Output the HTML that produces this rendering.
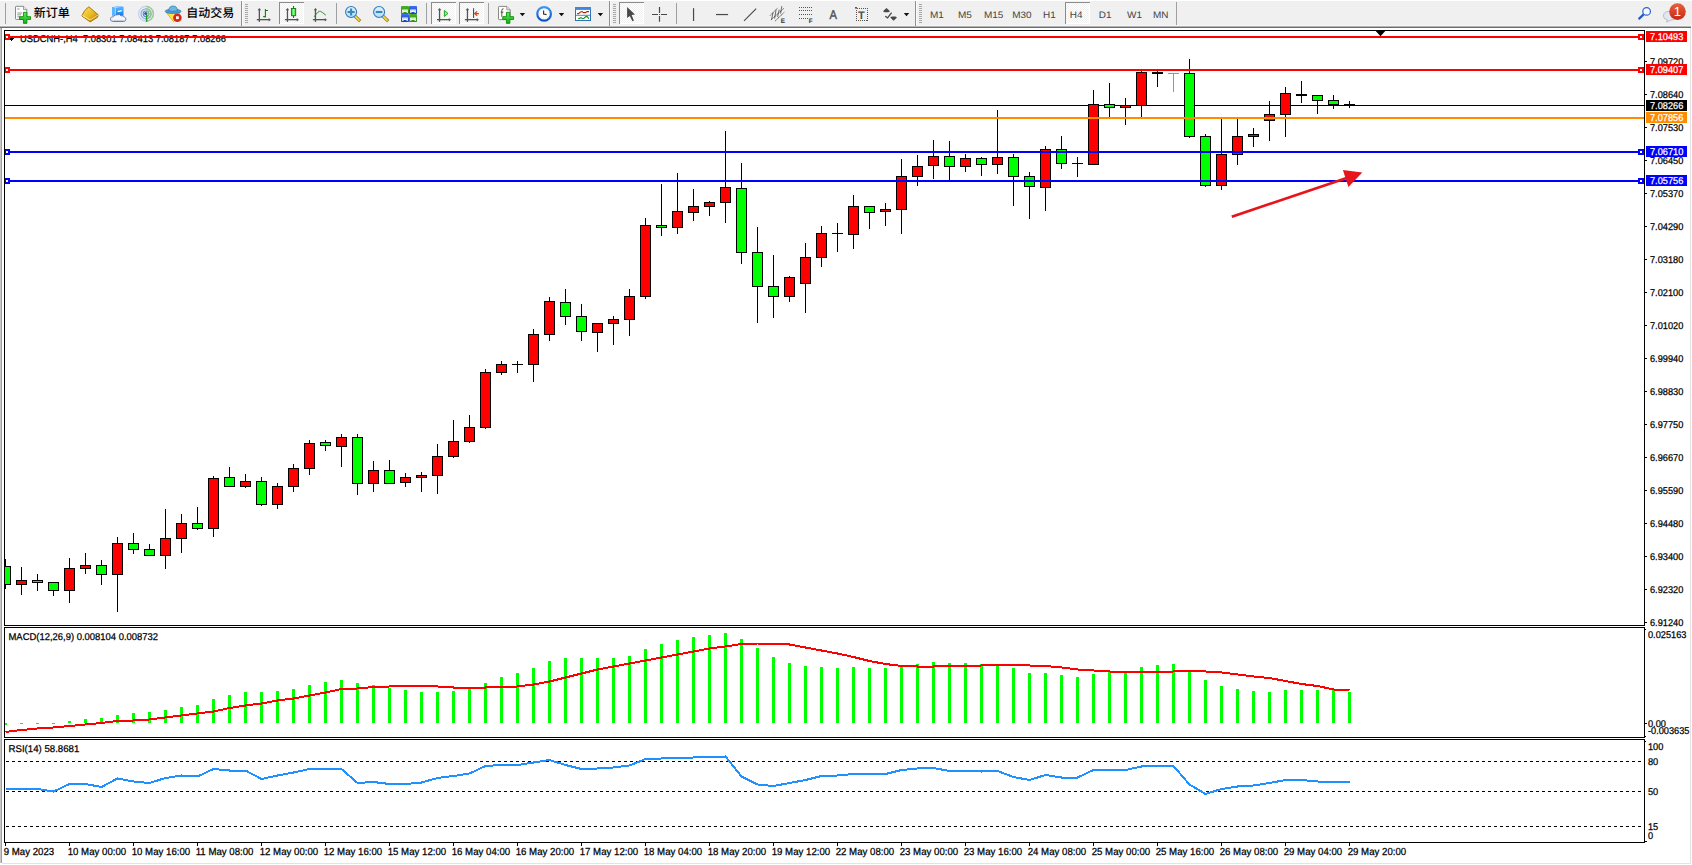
<!DOCTYPE html>
<html><head><meta charset="utf-8"><title>USDCNH-,H4</title>
<style>
html,body{margin:0;padding:0;background:#fff;overflow:hidden}
svg{display:block}
text{font-family:"Liberation Sans","Noto Sans CJK SC",sans-serif;font-size:9.8px;fill:#000;text-rendering:geometricPrecision}
.t{stroke:#000;stroke-width:0.25px}
.cj{font-family:"Liberation Sans","Noto Sans CJK SC",sans-serif;font-size:12px;font-weight:500;fill:#000}
.tf{font-size:9.4px;fill:#444}
.w{fill:#fff;stroke:#fff;stroke-width:0.25px}
.c{shape-rendering:crispEdges}
</style></head><body>
<svg width="1692" height="865" viewBox="0 0 1692 865">
<rect width="1692" height="865" fill="#fff"/>

<g class="c">
<rect x="0" y="1" width="1692" height="25" fill="#f0f0f0"/>
<rect x="0" y="25" width="1692" height="1" fill="#f6f6f6"/>
<rect x="0" y="26" width="1691" height="1" fill="#b4b4b4"/>
<rect x="0" y="27" width="1691" height="1" fill="#6c6c6c"/>
<rect x="0" y="28" width="1" height="835" fill="#c8c8c8"/>
<rect x="1" y="28" width="1" height="835" fill="#a0a0a0"/>
<rect x="1690" y="28" width="1" height="836" fill="#e3e3e3"/>
<rect x="2" y="863" width="1689" height="1" fill="#e3e3e3"/>
</g>
<defs>
<linearGradient id="gGold" x1="0" y1="0" x2="1" y2="1"><stop offset="0" stop-color="#ffe860"/><stop offset="0.55" stop-color="#e8b820"/><stop offset="1" stop-color="#b07008"/></linearGradient>
<linearGradient id="gPlus" x1="0" y1="0" x2="0" y2="1"><stop offset="0" stop-color="#58f058"/><stop offset="1" stop-color="#10b010"/></linearGradient>
<linearGradient id="gBlue" x1="0" y1="0" x2="0" y2="1"><stop offset="0" stop-color="#58b8ff"/><stop offset="1" stop-color="#1478e8"/></linearGradient>
<linearGradient id="gBadge" x1="0" y1="0" x2="0" y2="1"><stop offset="0" stop-color="#e8603c"/><stop offset="1" stop-color="#c82814"/></linearGradient>
<linearGradient id="gLens" x1="0" y1="0" x2="0" y2="1"><stop offset="0" stop-color="#e0f2ff"/><stop offset="1" stop-color="#b4dcf8"/></linearGradient>
<linearGradient id="gCandle" x1="0" y1="0" x2="1" y2="0"><stop offset="0" stop-color="#20c820"/><stop offset="0.5" stop-color="#90ff90"/><stop offset="1" stop-color="#20c820"/></linearGradient>
<linearGradient id="gRing" x1="0" y1="0" x2="0" y2="1"><stop offset="0" stop-color="#3c98f4"/><stop offset="1" stop-color="#0c50c0"/></linearGradient>
<linearGradient id="gTg" x1="0" y1="0" x2="0" y2="1"><stop offset="0" stop-color="#48b028"/><stop offset="1" stop-color="#2c9010"/></linearGradient>
<linearGradient id="gTb" x1="0" y1="0" x2="0" y2="1"><stop offset="0" stop-color="#4070e8"/><stop offset="1" stop-color="#1c40c0"/></linearGradient>
<pattern id="dots" width="2" height="2" patternUnits="userSpaceOnUse"><rect width="2" height="2" fill="#f0f0f0"/><rect width="1" height="1" fill="#fff"/><rect x="1" y="1" width="1" height="1" fill="#fff"/></pattern>
<g id="grip" class="c" fill="#a8a8a8"><rect y="0" width="3" height="1"/><rect y="2" width="3" height="1"/><rect y="4" width="3" height="1"/><rect y="6" width="3" height="1"/><rect y="8" width="3" height="1"/><rect y="10" width="3" height="1"/><rect y="12" width="3" height="1"/><rect y="14" width="3" height="1"/><rect y="16" width="3" height="1"/><rect y="18" width="3" height="1"/></g>
<g id="axes" fill="#545454"><rect x="1.9" y="1" width="1.3" height="12.9"/><rect x="0" y="11" width="13" height="1.3"/><polygon points="2.55,0 4.3,2.2 0.8,2.2"/><polygon points="14,11.65 11.9,9.9 11.9,13.4"/></g>
<g id="btn" class="c"><rect x="0" y="0" width="25" height="22" fill="url(#dots)"/><rect x="0" y="0" width="25" height="1" fill="#8c8c8c"/><rect x="0" y="0" width="1" height="22" fill="#8c8c8c"/><rect x="1" y="21" width="24" height="1" fill="#fff"/><rect x="24" y="1" width="1" height="21" fill="#fff"/></g>
<polygon id="dd" points="0,0 5.4,0 2.7,3.2" fill="#111"/>
</defs>
<g id="toolbar">
<!-- separators -->
<g class="c" fill="#a0a0a0">
<rect x="5" y="3" width="1" height="21"/><rect x="241" y="1" width="1" height="25" fill="#909090"/><rect x="242" y="1" width="1" height="25" fill="#fafafa"/><rect x="336" y="3" width="1" height="21"/><rect x="426" y="3" width="1" height="21"/><rect x="488" y="3" width="1" height="21"/><rect x="609" y="1" width="1" height="25" fill="#909090"/><rect x="610" y="1" width="1" height="25" fill="#fafafa"/><rect x="676" y="3" width="1" height="21"/><rect x="915" y="1" width="1" height="25" fill="#909090"/><rect x="916" y="1" width="1" height="25" fill="#fafafa"/><rect x="1176" y="2" width="1" height="23"/>
</g>
<use href="#grip" x="245" y="4"/><use href="#grip" x="613" y="4"/><use href="#grip" x="919" y="4"/>
<!-- pressed buttons -->
<use href="#btn" x="279" y="2"/><use href="#btn" x="431" y="2"/><use href="#btn" x="459" y="2"/><use href="#btn" x="619" y="2"/><use href="#btn" x="1065" y="2"/>
<!-- new order -->
<path d="M15.5,7 Q15.5,6.3 16.2,6.3 H23.5 L26.8,9.6 V18.6 Q26.8,19.4 26,19.4 H16.2 Q15.5,19.4 15.5,18.6 Z" fill="#fff" stroke="#7a7a7a" stroke-width="0.9"/>
<path d="M23.5,6.3 V9.6 H26.8" fill="#e4e4e4" stroke="#7a7a7a" stroke-width="0.7"/>
<path d="M17.2,9 H19.6 M17.2,13 H22 M17.2,14.8 H21 M17.2,16.8 H20" stroke="#8a8a8a" stroke-width="0.9" fill="none"/>
<path d="M23.45,12.35 H26.85 V16.65 H30.55 V19.45 H26.85 V23.35 H23.45 V19.45 H19.55 V16.65 H23.45 Z" fill="url(#gPlus)" stroke="#0c8c0c" stroke-width="0.9"/>
<text class="cj" x="33.8" y="17.3">新订单</text>
<!-- book -->
<path d="M88.8,6.8 L98.2,14.8 L97.6,17.2 L90.2,21.9 L81.8,15.9 Q84,10 88.8,6.8 Z" fill="url(#gGold)" stroke="#a26c04" stroke-width="0.9"/>
<path d="M82.4,15.4 L90.2,20 L97.8,15.4" fill="none" stroke="#fff0a0" stroke-width="0.9"/>
<path d="M90.2,21.2 L97.4,16.6" fill="none" stroke="#c89018" stroke-width="1.2"/>
<!-- cloud server -->
<path d="M112,7.2 L120,6 L123.3,7 V15.5 H112 Z" fill="#2c8cf0"/>
<path d="M112,7.2 L120,6 L123.3,7 L115.4,8.2 Z" fill="#9cd4ff"/>
<path d="M112,7.2 L115.4,8.2 V15.5 H112 Z" fill="#58b4ff"/>
<path d="M115.4,8.2 L123.3,7 V15.5 H115.4 Z" fill="url(#gBlue)"/>
<path d="M115.4,8.2 V15.4" stroke="#d8f0ff" stroke-width="0.7"/>
<path d="M117.6,11.6 L121.8,10.6" stroke="#fff" stroke-width="1.3"/>
<path d="M113.2,21.5 Q110.2,21.5 110.4,18.8 Q110.8,16.6 113.4,16.8 Q114.4,14.2 117.4,14.8 Q119.4,13.6 121,15.8 Q123.6,15.2 124.4,17.2 Q126.4,17.8 125.8,19.8 Q125.4,21.5 123.4,21.5 Z" fill="#f4f6fa" stroke="#5874ac" stroke-width="0.9"/>
<path d="M111.6,20.4 H124.6" stroke="#c4cce0" stroke-width="1"/>
<!-- signal -->
<g fill="none" stroke-width="1.2">
<circle cx="146" cy="13.8" r="7.4" stroke="#c0d0ec"/><circle cx="146" cy="13.8" r="5" stroke="#8caae4"/><circle cx="146" cy="13.8" r="2.8" stroke="#6488dc"/>
<path d="M146,6.4 A7.4,7.4 0 0 1 146,21.2" stroke="#a0cca0" stroke-width="1.5"/><path d="M146,8.8 A5,5 0 0 1 146,18.8" stroke="#90c490" stroke-width="1.5"/><path d="M146,11 A2.8,2.8 0 0 1 146,16.6" stroke="#88bc88"/>
</g>
<circle cx="145.8" cy="13.5" r="1.6" fill="#2454cc"/>
<path d="M146.6,14.4 V21.8" stroke="#20a020" stroke-width="1.4"/>
<!-- autotrading -->
<path d="M166.4,12.4 L180,12.4 L173.6,21.8 Z" fill="#ffe24a" stroke="#d8a800" stroke-width="0.8"/>
<path d="M168,13 L179,13 L176,15 Z" fill="#fff4a0"/>
<ellipse cx="173.1" cy="11.3" rx="7.9" ry="2.3" fill="#4c9cd4" stroke="#2c78b0" stroke-width="0.7"/>
<path d="M168.8,10.8 Q168.8,6 173,6 Q177.4,6 177.4,10.8 Q173,12.2 168.8,10.8 Z" fill="#6cb8e4" stroke="#2c78b0" stroke-width="0.7"/>
<circle cx="177.4" cy="17.7" r="4.3" fill="#dc2810"/>
<rect x="176" y="16.3" width="2.8" height="2.8" fill="#fff"/>
<text class="cj" x="186.3" y="17.3">自动交易</text>
<!-- bar chart -->
<use href="#axes" x="256.8" y="8"/>
<path d="M263.2,16.6 H265.4 M265.4,9 V17.6 M265.4,10.5 H268" fill="none" stroke="#108010" stroke-width="1.1"/>
<!-- candle chart -->
<use href="#axes" x="284.9" y="8"/>
<path d="M293.5,6 V18" stroke="#108010" stroke-width="1.1"/><rect x="291.4" y="8.5" width="4.3" height="7.2" fill="url(#gCandle)" stroke="#108010" stroke-width="0.9"/>
<!-- line chart -->
<use href="#axes" x="312.9" y="8"/>
<path d="M314.2,16.8 Q318.5,10.5 320.4,11.3 T325.8,15.2" fill="none" stroke="#2c8c2c" stroke-width="1"/>
<!-- zoom in/out -->
<g id="zin"><path d="M355,16.2 L359,20" stroke="#9c7410" stroke-width="3.2" stroke-linecap="square"/><path d="M355,16.2 L359,20" stroke="#f0dc50" stroke-width="1.6" stroke-linecap="square"/><circle cx="351.1" cy="12" r="5.5" fill="url(#gLens)" stroke="#2c7cc8" stroke-width="1.1"/></g>
<path d="M347.6,12 H354.6 M351.1,8.5 V15.5" stroke="#3c88b4" stroke-width="2.1"/>
<use href="#zin" x="28" y="0"/>
<path d="M375.8,12 H382.4" stroke="#3c88b4" stroke-width="2.1"/>
<!-- tile -->
<rect x="401" y="6" width="8" height="8" rx="0.8" fill="url(#gTg)"/><rect x="409" y="6" width="8" height="8" rx="0.8" fill="url(#gTb)"/><rect x="401" y="14" width="8" height="8" rx="0.8" fill="url(#gTb)"/><rect x="409" y="14" width="8" height="8" rx="0.8" fill="url(#gTg)"/>
<g fill="#fff"><path d="M402.2,9.6 H407.8 V12.9 H406.6 V12 H403.4 V12.9 H402.2 Z"/><path d="M410.2,9.6 H415.8 V12.9 H414.6 V12 H411.4 V12.9 H410.2 Z"/><path d="M402.2,17.6 H407.8 V20.9 H406.6 V20 H403.4 V20.9 H402.2 Z"/><path d="M410.2,17.6 H415.8 V20.9 H414.6 V20 H411.4 V20.9 H410.2 Z"/></g>
<path d="M403.2,10.7 H406.8 M411.2,18.7 H414.8" stroke="#a8e090" stroke-width="0.8"/><path d="M411.2,10.7 H412.6 M413.4,10.7 H414.8 M403.2,18.7 H404.6 M405.4,18.7 H406.8" stroke="#90a8f0" stroke-width="0.8"/>
<!-- shift / autoscroll -->
<use href="#axes" x="437" y="8"/>
<path d="M444.4,10.4 L448,13.5 L444.4,16.6 Z" fill="#90e890" stroke="#10a010" stroke-width="0.9"/>
<use href="#axes" x="464.9" y="8"/>
<path d="M473.55,8.2 V18" stroke="#1060a0" stroke-width="1.1"/><path d="M479,13.6 H474.6 M477.2,11.4 L474.6,13.6 L477.2,15.8" fill="none" stroke="#e04800" stroke-width="1.2"/>
<!-- indicators -->
<path d="M498.5,7.2 Q498.5,6.4 499.3,6.4 H506.8 L510.2,9.8 V18.8 Q510.2,19.6 509.4,19.6 H499.3 Q498.5,19.6 498.5,18.8 Z" fill="#fff" stroke="#7a7a7a" stroke-width="0.9"/>
<path d="M506.8,6.4 V9.8 H510.2" fill="#e4e4e4" stroke="#7a7a7a" stroke-width="0.7"/>
<path d="M503.6,8.8 Q501.8,8.4 501.8,10.6 V16.8 M500.6,12.2 H503.4" fill="none" stroke="#4c4428" stroke-width="0.9"/>
<path d="M506.45,12.35 H509.85 V16.65 H513.55 V19.45 H509.85 V23.35 H506.45 V19.45 H502.75 V16.65 H506.45 Z" fill="url(#gPlus)" stroke="#0c8c0c" stroke-width="0.9"/>
<use href="#dd" x="519.7" y="13"/>
<!-- clock -->
<circle cx="544.1" cy="13.9" r="6.8" fill="#fff" stroke="url(#gRing)" stroke-width="2.2"/>
<circle cx="544.1" cy="13.9" r="4.4" fill="none" stroke="#c8c8c8" stroke-width="0.8" stroke-dasharray="0.6,1.7"/>
<path d="M543.6,10.4 V14 L546.6,14.6" fill="none" stroke="#333" stroke-width="1.2"/>
<use href="#dd" x="558.8" y="13"/>
<!-- template -->
<rect x="575.5" y="7.5" width="15" height="13" fill="#fff" stroke="#3070c0" stroke-width="1"/>
<rect x="575" y="7" width="16" height="2.9" fill="#4484dc"/>
<path d="M576,15.3 H590" stroke="#3c78c8" stroke-width="0.9"/>
<path d="M577.2,13.6 L578.6,13.6 L580.2,12.2 L582,11.6 L583.6,12.6 L585.4,12.6 L587,11.6 L589,11.6" fill="none" stroke="#a02808" stroke-width="1.1"/>
<path d="M578.2,18.6 L579.6,18.4 L581,17.6 L582.6,18.6 L584,18.2 L586,16.4 L587.4,16.8 L588.8,18.6" fill="none" stroke="#109018" stroke-width="1.1"/>
<use href="#dd" x="597.7" y="13"/>
<!-- cursor -->
<path d="M627.1,6.9 L627.1,18 L629.8,15.9 L632.4,21.3 L633.9,20.4 L631.6,15.1 L635,14.6 Z" fill="#484848"/>
<!-- crosshair -->
<path d="M659.5,7.1 V13 M659.5,16 V21.8 M652,14.5 H658 M661,14.5 H667" stroke="#484848" stroke-width="1.2"/><rect x="659" y="14" width="1" height="1" fill="#585838"/>
<!-- vline hline trend -->
<path d="M693.55,8.2 V21" stroke="#484848" stroke-width="1.2"/>
<path d="M716,14.55 H728.1" stroke="#484848" stroke-width="1.2"/>
<path d="M744,20.9 L756.2,8.6" stroke="#484848" stroke-width="1.1"/>
<!-- channel -->
<path d="M770.1,15.6 L777.7,7.9 M770.9,19.9 L783.7,8.5 M775.2,21 L784.3,12.2" stroke="#484848" stroke-width="1" stroke-dasharray="1.4,0.6" fill="none"/>
<path d="M773,12.6 L771.6,19.6 M776,10.2 L774.6,18.6 M779.2,9.6 L777.6,17 M781.8,6.2 L780.6,13.6" stroke="#484848" stroke-width="0.8" fill="none"/>
<text x="780.8" y="22.8" style="font-size:6.4px;font-weight:bold;fill:#333">E</text>
<!-- fibo -->
<g class="c" stroke="#555" stroke-width="1" stroke-dasharray="1,1"><path d="M799,7.5 H813 M799,10.5 H813 M799,14.5 H813 M799,18.5 H808"/></g>
<text x="808.7" y="22.7" style="font-size:6.4px;font-weight:bold;fill:#333">F</text>
<!-- A -->
<text transform="translate(829.5,19) scale(0.88,1)" x="0" y="0" style="font-size:12.7px;fill:#505050;stroke:#505050;stroke-width:0.4px">A</text>
<!-- text label -->
<rect x="856.5" y="8.5" width="11" height="12" fill="none" stroke="#555" stroke-width="1" stroke-dasharray="1,1" class="c"/>
<rect x="855" y="7" width="2" height="1.6" fill="#555"/>
<text x="858" y="19" style="font-size:11px;font-weight:bold;fill:#505050">T</text>
<!-- arrows -->
<path d="M886.5,8 L890,11.2 L888.4,12.3 H884.6 L883,11.2 Z M893.6,20.8 L897,17.6 L895.4,16.6 H891.8 L890.2,17.6 Z" fill="#484848"/>
<path d="M885.2,16.2 L887.6,17.8 L891.6,12.6" fill="none" stroke="#484848" stroke-width="1.3"/>
<use href="#dd" x="903.8" y="13"/>
<!-- timeframes -->
<g transform="scale(1.064,1)">
<text class="tf" x="873.97" y="18">M1</text><text class="tf" x="900.38" y="18">M5</text><text class="tf" x="924.81" y="18">M15</text><text class="tf" x="951.32" y="18">M30</text><text class="tf" x="980.26" y="18">H1</text><text class="tf" x="1005.45" y="18">H4</text><text class="tf" x="1032.71" y="18">D1</text><text class="tf" x="1059.21" y="18">W1</text><text class="tf" x="1083.65" y="18">MN</text>
</g>
<!-- search -->
<path d="M1643.6,14.4 L1639.2,18.6" stroke="#2858c8" stroke-width="2.2" stroke-linecap="round"/>
<circle cx="1646.6" cy="11.4" r="3.8" fill="#f4f8ff" stroke="#2c60d0" stroke-width="1.2"/>
<!-- chat -->
<path d="M1663.4,16 Q1663.4,11.4 1669.6,11.4 Q1676,11.4 1676,16 Q1676,19.8 1670.6,20.2 L1666.6,22.2 L1667.2,19.8 Q1663.4,19 1663.4,16 Z" fill="#e4e6f0" stroke="#b4b4bc" stroke-width="0.8"/>
<circle cx="1677.5" cy="11.6" r="8.3" fill="url(#gBadge)"/>
<text x="1673.8" y="16.4" style="font-size:13px;fill:#fff">1</text>
</g>

<clipPath id="cp"><rect x="5" y="31" width="1639" height="594"/></clipPath><g class="c" clip-path="url(#cp)">
<rect x="5" y="105" width="1639" height="1" fill="#000"/>
<rect x="5" y="559" width="1" height="30" fill="#000"/>
<rect x="0.5" y="566.5" width="10" height="18" fill="#00ff00" stroke="#000" stroke-width="1"/>
<rect x="21" y="567" width="1" height="28" fill="#000"/>
<rect x="16.5" y="580.5" width="10" height="4" fill="#ff0000" stroke="#000" stroke-width="1"/>
<rect x="37" y="574" width="1" height="17" fill="#000"/>
<rect x="32.5" y="580.5" width="10" height="2" fill="#00ff00" stroke="#000" stroke-width="1"/>
<rect x="53" y="582" width="1" height="14" fill="#000"/>
<rect x="48.5" y="582.5" width="10" height="8" fill="#00ff00" stroke="#000" stroke-width="1"/>
<rect x="69" y="558" width="1" height="45" fill="#000"/>
<rect x="64.5" y="568.5" width="10" height="22" fill="#ff0000" stroke="#000" stroke-width="1"/>
<rect x="85" y="553" width="1" height="21" fill="#000"/>
<rect x="80.5" y="565.5" width="10" height="3" fill="#ff0000" stroke="#000" stroke-width="1"/>
<rect x="101" y="560" width="1" height="25" fill="#000"/>
<rect x="96.5" y="565.5" width="10" height="9" fill="#00ff00" stroke="#000" stroke-width="1"/>
<rect x="117" y="537" width="1" height="75" fill="#000"/>
<rect x="112.5" y="543.5" width="10" height="31" fill="#ff0000" stroke="#000" stroke-width="1"/>
<rect x="133" y="533" width="1" height="21" fill="#000"/>
<rect x="128.5" y="543.5" width="10" height="6" fill="#00ff00" stroke="#000" stroke-width="1"/>
<rect x="149" y="544" width="1" height="12" fill="#000"/>
<rect x="144.5" y="549.5" width="10" height="6" fill="#00ff00" stroke="#000" stroke-width="1"/>
<rect x="165" y="509" width="1" height="60" fill="#000"/>
<rect x="160.5" y="538.5" width="10" height="17" fill="#ff0000" stroke="#000" stroke-width="1"/>
<rect x="181" y="514" width="1" height="39" fill="#000"/>
<rect x="176.5" y="523.5" width="10" height="15" fill="#ff0000" stroke="#000" stroke-width="1"/>
<rect x="197" y="507" width="1" height="23" fill="#000"/>
<rect x="192.5" y="523.5" width="10" height="5" fill="#00ff00" stroke="#000" stroke-width="1"/>
<rect x="213" y="476" width="1" height="61" fill="#000"/>
<rect x="208.5" y="478.5" width="10" height="50" fill="#ff0000" stroke="#000" stroke-width="1"/>
<rect x="229" y="467" width="1" height="20" fill="#000"/>
<rect x="224.5" y="477.5" width="10" height="9" fill="#00ff00" stroke="#000" stroke-width="1"/>
<rect x="245" y="474" width="1" height="14" fill="#000"/>
<rect x="240.5" y="481.5" width="10" height="5" fill="#ff0000" stroke="#000" stroke-width="1"/>
<rect x="261" y="477" width="1" height="29" fill="#000"/>
<rect x="256.5" y="481.5" width="10" height="23" fill="#00ff00" stroke="#000" stroke-width="1"/>
<rect x="277" y="483" width="1" height="26" fill="#000"/>
<rect x="272.5" y="486.5" width="10" height="18" fill="#ff0000" stroke="#000" stroke-width="1"/>
<rect x="293" y="464" width="1" height="28" fill="#000"/>
<rect x="288.5" y="468.5" width="10" height="18" fill="#ff0000" stroke="#000" stroke-width="1"/>
<rect x="309" y="440" width="1" height="35" fill="#000"/>
<rect x="304.5" y="443.5" width="10" height="25" fill="#ff0000" stroke="#000" stroke-width="1"/>
<rect x="325" y="440" width="1" height="11" fill="#000"/>
<rect x="320.5" y="442.5" width="10" height="3" fill="#00ff00" stroke="#000" stroke-width="1"/>
<rect x="341" y="434" width="1" height="33" fill="#000"/>
<rect x="336.5" y="437.5" width="10" height="9" fill="#ff0000" stroke="#000" stroke-width="1"/>
<rect x="357" y="434" width="1" height="61" fill="#000"/>
<rect x="352.5" y="437.5" width="10" height="46" fill="#00ff00" stroke="#000" stroke-width="1"/>
<rect x="373" y="461" width="1" height="31" fill="#000"/>
<rect x="368.5" y="470.5" width="10" height="13" fill="#ff0000" stroke="#000" stroke-width="1"/>
<rect x="389" y="460" width="1" height="24" fill="#000"/>
<rect x="384.5" y="470.5" width="10" height="13" fill="#00ff00" stroke="#000" stroke-width="1"/>
<rect x="405" y="473" width="1" height="14" fill="#000"/>
<rect x="400.5" y="477.5" width="10" height="5" fill="#ff0000" stroke="#000" stroke-width="1"/>
<rect x="421" y="472" width="1" height="20" fill="#000"/>
<rect x="416.5" y="475.5" width="10" height="2" fill="#ff0000" stroke="#000" stroke-width="1"/>
<rect x="437" y="444" width="1" height="50" fill="#000"/>
<rect x="432.5" y="456.5" width="10" height="19" fill="#ff0000" stroke="#000" stroke-width="1"/>
<rect x="453" y="420" width="1" height="38" fill="#000"/>
<rect x="448.5" y="441.5" width="10" height="15" fill="#ff0000" stroke="#000" stroke-width="1"/>
<rect x="469" y="415" width="1" height="28" fill="#000"/>
<rect x="464.5" y="427.5" width="10" height="14" fill="#ff0000" stroke="#000" stroke-width="1"/>
<rect x="485" y="369" width="1" height="60" fill="#000"/>
<rect x="480.5" y="372.5" width="10" height="55" fill="#ff0000" stroke="#000" stroke-width="1"/>
<rect x="501" y="361" width="1" height="14" fill="#000"/>
<rect x="496.5" y="364.5" width="10" height="8" fill="#ff0000" stroke="#000" stroke-width="1"/>
<rect x="517" y="361" width="1" height="12" fill="#000"/>
<rect x="512" y="364" width="11" height="1" fill="#000"/>
<rect x="533" y="329" width="1" height="53" fill="#000"/>
<rect x="528.5" y="334.5" width="10" height="30" fill="#ff0000" stroke="#000" stroke-width="1"/>
<rect x="549" y="297" width="1" height="44" fill="#000"/>
<rect x="544.5" y="301.5" width="10" height="33" fill="#ff0000" stroke="#000" stroke-width="1"/>
<rect x="565" y="289" width="1" height="36" fill="#000"/>
<rect x="560.5" y="302.5" width="10" height="14" fill="#00ff00" stroke="#000" stroke-width="1"/>
<rect x="581" y="304" width="1" height="37" fill="#000"/>
<rect x="576.5" y="316.5" width="10" height="15" fill="#00ff00" stroke="#000" stroke-width="1"/>
<rect x="597" y="323" width="1" height="29" fill="#000"/>
<rect x="592.5" y="323.5" width="10" height="9" fill="#ff0000" stroke="#000" stroke-width="1"/>
<rect x="613" y="316" width="1" height="29" fill="#000"/>
<rect x="608.5" y="319.5" width="10" height="4" fill="#ff0000" stroke="#000" stroke-width="1"/>
<rect x="629" y="289" width="1" height="47" fill="#000"/>
<rect x="624.5" y="296.5" width="10" height="23" fill="#ff0000" stroke="#000" stroke-width="1"/>
<rect x="645" y="218" width="1" height="81" fill="#000"/>
<rect x="640.5" y="225.5" width="10" height="71" fill="#ff0000" stroke="#000" stroke-width="1"/>
<rect x="661" y="184" width="1" height="52" fill="#000"/>
<rect x="656.5" y="225.5" width="10" height="2" fill="#00ff00" stroke="#000" stroke-width="1"/>
<rect x="677" y="173" width="1" height="61" fill="#000"/>
<rect x="672.5" y="211.5" width="10" height="16" fill="#ff0000" stroke="#000" stroke-width="1"/>
<rect x="693" y="189" width="1" height="32" fill="#000"/>
<rect x="688.5" y="206.5" width="10" height="6" fill="#ff0000" stroke="#000" stroke-width="1"/>
<rect x="709" y="201" width="1" height="15" fill="#000"/>
<rect x="704.5" y="202.5" width="10" height="4" fill="#ff0000" stroke="#000" stroke-width="1"/>
<rect x="725" y="131" width="1" height="92" fill="#000"/>
<rect x="720.5" y="187.5" width="10" height="15" fill="#ff0000" stroke="#000" stroke-width="1"/>
<rect x="741" y="163" width="1" height="101" fill="#000"/>
<rect x="736.5" y="188.5" width="10" height="64" fill="#00ff00" stroke="#000" stroke-width="1"/>
<rect x="757" y="227" width="1" height="96" fill="#000"/>
<rect x="752.5" y="252.5" width="10" height="34" fill="#00ff00" stroke="#000" stroke-width="1"/>
<rect x="773" y="255" width="1" height="63" fill="#000"/>
<rect x="768.5" y="286.5" width="10" height="10" fill="#00ff00" stroke="#000" stroke-width="1"/>
<rect x="789" y="276" width="1" height="26" fill="#000"/>
<rect x="784.5" y="277.5" width="10" height="19" fill="#ff0000" stroke="#000" stroke-width="1"/>
<rect x="805" y="243" width="1" height="70" fill="#000"/>
<rect x="800.5" y="257.5" width="10" height="26" fill="#ff0000" stroke="#000" stroke-width="1"/>
<rect x="821" y="226" width="1" height="41" fill="#000"/>
<rect x="816.5" y="233.5" width="10" height="24" fill="#ff0000" stroke="#000" stroke-width="1"/>
<rect x="837" y="223" width="1" height="29" fill="#000"/>
<rect x="832" y="233" width="11" height="1" fill="#000"/>
<rect x="853" y="195" width="1" height="54" fill="#000"/>
<rect x="848.5" y="206.5" width="10" height="28" fill="#ff0000" stroke="#000" stroke-width="1"/>
<rect x="869" y="206" width="1" height="23" fill="#000"/>
<rect x="864.5" y="206.5" width="10" height="6" fill="#00ff00" stroke="#000" stroke-width="1"/>
<rect x="885" y="203" width="1" height="23" fill="#000"/>
<rect x="880.5" y="209.5" width="10" height="2" fill="#ff0000" stroke="#000" stroke-width="1"/>
<rect x="901" y="159" width="1" height="75" fill="#000"/>
<rect x="896.5" y="176.5" width="10" height="33" fill="#ff0000" stroke="#000" stroke-width="1"/>
<rect x="917" y="155" width="1" height="31" fill="#000"/>
<rect x="912.5" y="166.5" width="10" height="10" fill="#ff0000" stroke="#000" stroke-width="1"/>
<rect x="933" y="140" width="1" height="39" fill="#000"/>
<rect x="928.5" y="156.5" width="10" height="9" fill="#ff0000" stroke="#000" stroke-width="1"/>
<rect x="949" y="141" width="1" height="39" fill="#000"/>
<rect x="944.5" y="156.5" width="10" height="10" fill="#00ff00" stroke="#000" stroke-width="1"/>
<rect x="965" y="154" width="1" height="18" fill="#000"/>
<rect x="960.5" y="158.5" width="10" height="8" fill="#ff0000" stroke="#000" stroke-width="1"/>
<rect x="981" y="157" width="1" height="19" fill="#000"/>
<rect x="976.5" y="158.5" width="10" height="6" fill="#00ff00" stroke="#000" stroke-width="1"/>
<rect x="997" y="110" width="1" height="64" fill="#000"/>
<rect x="992.5" y="157.5" width="10" height="7" fill="#ff0000" stroke="#000" stroke-width="1"/>
<rect x="1013" y="154" width="1" height="52" fill="#000"/>
<rect x="1008.5" y="157.5" width="10" height="19" fill="#00ff00" stroke="#000" stroke-width="1"/>
<rect x="1029" y="172" width="1" height="47" fill="#000"/>
<rect x="1024.5" y="176.5" width="10" height="10" fill="#00ff00" stroke="#000" stroke-width="1"/>
<rect x="1045" y="146" width="1" height="65" fill="#000"/>
<rect x="1040.5" y="149.5" width="10" height="38" fill="#ff0000" stroke="#000" stroke-width="1"/>
<rect x="1061" y="136" width="1" height="33" fill="#000"/>
<rect x="1056.5" y="149.5" width="10" height="14" fill="#00ff00" stroke="#000" stroke-width="1"/>
<rect x="1077" y="157" width="1" height="20" fill="#000"/>
<rect x="1072" y="163" width="11" height="1" fill="#000"/>
<rect x="1093" y="90" width="1" height="75" fill="#000"/>
<rect x="1088.5" y="104.5" width="10" height="60" fill="#ff0000" stroke="#000" stroke-width="1"/>
<rect x="1109" y="83" width="1" height="34" fill="#000"/>
<rect x="1104.5" y="104.5" width="10" height="3" fill="#00ff00" stroke="#000" stroke-width="1"/>
<rect x="1125" y="98" width="1" height="27" fill="#000"/>
<rect x="1120.5" y="105.5" width="10" height="2" fill="#ff0000" stroke="#000" stroke-width="1"/>
<rect x="1141" y="71" width="1" height="46" fill="#000"/>
<rect x="1136.5" y="72.5" width="10" height="33" fill="#ff0000" stroke="#000" stroke-width="1"/>
<rect x="1157" y="71" width="1" height="16" fill="#000"/>
<rect x="1152" y="72" width="11" height="2" fill="#000"/>
<rect x="1173" y="73" width="1" height="19" fill="#00ff00"/>
<rect x="1168" y="73" width="11" height="1" fill="#00ff00"/>
<rect x="1189" y="59" width="1" height="79" fill="#000"/>
<rect x="1184.5" y="73.5" width="10" height="63" fill="#00ff00" stroke="#000" stroke-width="1"/>
<rect x="1205" y="134" width="1" height="53" fill="#000"/>
<rect x="1200.5" y="136.5" width="10" height="49" fill="#00ff00" stroke="#000" stroke-width="1"/>
<rect x="1221" y="119" width="1" height="71" fill="#000"/>
<rect x="1216.5" y="154.5" width="10" height="31" fill="#ff0000" stroke="#000" stroke-width="1"/>
<rect x="1237" y="119" width="1" height="46" fill="#000"/>
<rect x="1232.5" y="136.5" width="10" height="18" fill="#ff0000" stroke="#000" stroke-width="1"/>
<rect x="1253" y="128" width="1" height="19" fill="#000"/>
<rect x="1248.5" y="134.5" width="10" height="2" fill="#ff0000" stroke="#000" stroke-width="1"/>
<rect x="1269" y="101" width="1" height="40" fill="#000"/>
<rect x="1264.5" y="114.5" width="10" height="6" fill="#ff0000" stroke="#000" stroke-width="1"/>
<rect x="1285" y="87" width="1" height="50" fill="#000"/>
<rect x="1280.5" y="93.5" width="10" height="21" fill="#ff0000" stroke="#000" stroke-width="1"/>
<rect x="1301" y="81" width="1" height="22" fill="#000"/>
<rect x="1296" y="94" width="11" height="2" fill="#000"/>
<rect x="1317" y="95" width="1" height="19" fill="#000"/>
<rect x="1312.5" y="95.5" width="10" height="5" fill="#00ff00" stroke="#000" stroke-width="1"/>
<rect x="1333" y="95" width="1" height="14" fill="#000"/>
<rect x="1328.5" y="100.5" width="10" height="4" fill="#00ff00" stroke="#000" stroke-width="1"/>
<rect x="1349" y="101" width="1" height="7" fill="#000"/>
<rect x="1344" y="104" width="11" height="1" fill="#000"/>
<polygon points="8.5,37 15,37 11.75,41.2" fill="#000"/>
<text class="t" transform="translate(20,42) scale(0.955,1)" xml:space="preserve">USDCNH-,H4  7.08301 7.08413 7.08187 7.08266</text>
<rect x="5" y="36" width="1639" height="2" fill="#ff0000"/>
<rect x="4" y="34" width="6" height="6" fill="#ff0000"/>
<rect x="6" y="36" width="2" height="2" fill="#fff"/>
<rect x="1638" y="34" width="6" height="6" fill="#ff0000"/>
<rect x="1640" y="36" width="2" height="2" fill="#fff"/>
<rect x="5" y="69" width="1639" height="2" fill="#ff0000"/>
<rect x="4" y="67" width="6" height="6" fill="#ff0000"/>
<rect x="6" y="69" width="2" height="2" fill="#fff"/>
<rect x="1638" y="67" width="6" height="6" fill="#ff0000"/>
<rect x="1640" y="69" width="2" height="2" fill="#fff"/>
<rect x="5" y="117" width="1639" height="2" fill="#ff8c00"/>
<rect x="5" y="151" width="1639" height="2" fill="#0000ff"/>
<rect x="4" y="149" width="6" height="6" fill="#0000ff"/>
<rect x="6" y="151" width="2" height="2" fill="#fff"/>
<rect x="1638" y="149" width="6" height="6" fill="#0000ff"/>
<rect x="1640" y="151" width="2" height="2" fill="#fff"/>
<rect x="5" y="180" width="1639" height="2" fill="#0000ff"/>
<rect x="4" y="178" width="6" height="6" fill="#0000ff"/>
<rect x="6" y="180" width="2" height="2" fill="#fff"/>
<rect x="1638" y="178" width="6" height="6" fill="#0000ff"/>
<rect x="1640" y="180" width="2" height="2" fill="#fff"/>
</g>
<g fill="#e8141c" stroke="none"><polygon points="1231.3,215.6 1232.3,218 1347.2,179.2 1346.2,176.8"/><polygon points="1342.9,169.9 1362.3,172.6 1348.4,187"/></g>
<g class="c">
<rect x="4" y="30" width="1641" height="1" fill="#000"/>
<rect x="4" y="625" width="1641" height="1" fill="#000"/>
<rect x="4" y="627" width="1641" height="1" fill="#000"/>
<rect x="4" y="737" width="1641" height="1" fill="#000"/>
<rect x="4" y="739" width="1641" height="1" fill="#000"/>
<rect x="4" y="842" width="1641" height="1" fill="#000"/>
<rect x="4" y="30" width="1" height="596" fill="#000"/>
<rect x="4" y="627" width="1" height="111" fill="#000"/>
<rect x="4" y="739" width="1" height="104" fill="#000"/>
<rect x="1644" y="30" width="1" height="596" fill="#000"/>
<rect x="1644" y="627" width="1" height="111" fill="#000"/>
<rect x="1644" y="739" width="1" height="104" fill="#000"/>
<rect x="1645" y="629" width="1" height="1" fill="#000"/>
<rect x="1645" y="841" width="2" height="1" fill="#000"/>
<rect x="1645" y="736" width="1" height="1" fill="#000"/>
<rect x="1645" y="741" width="1" height="1" fill="#000"/>
<rect x="1645" y="61" width="2" height="1" fill="#000"/>
<rect x="1645" y="94" width="2" height="1" fill="#000"/>
<rect x="1645" y="127" width="2" height="1" fill="#000"/>
<rect x="1645" y="160" width="2" height="1" fill="#000"/>
<rect x="1645" y="193" width="2" height="1" fill="#000"/>
<rect x="1645" y="226" width="2" height="1" fill="#000"/>
<rect x="1645" y="259" width="2" height="1" fill="#000"/>
<rect x="1645" y="292" width="2" height="1" fill="#000"/>
<rect x="1645" y="325" width="2" height="1" fill="#000"/>
<rect x="1645" y="358" width="2" height="1" fill="#000"/>
<rect x="1645" y="391" width="2" height="1" fill="#000"/>
<rect x="1645" y="424" width="2" height="1" fill="#000"/>
<rect x="1645" y="457" width="2" height="1" fill="#000"/>
<rect x="1645" y="490" width="2" height="1" fill="#000"/>
<rect x="1645" y="523" width="2" height="1" fill="#000"/>
<rect x="1645" y="556" width="2" height="1" fill="#000"/>
<rect x="1645" y="589" width="2" height="1" fill="#000"/>
<rect x="1645" y="622" width="2" height="1" fill="#000"/>
</g>
<text class="t" transform="translate(1650,65) scale(0.94,1)" xml:space="preserve">7.09720</text>
<text class="t" transform="translate(1650,98) scale(0.94,1)" xml:space="preserve">7.08640</text>
<text class="t" transform="translate(1650,131) scale(0.94,1)" xml:space="preserve">7.07530</text>
<text class="t" transform="translate(1650,164) scale(0.94,1)" xml:space="preserve">7.06450</text>
<text class="t" transform="translate(1650,197) scale(0.94,1)" xml:space="preserve">7.05370</text>
<text class="t" transform="translate(1650,230) scale(0.94,1)" xml:space="preserve">7.04290</text>
<text class="t" transform="translate(1650,263) scale(0.94,1)" xml:space="preserve">7.03180</text>
<text class="t" transform="translate(1650,296) scale(0.94,1)" xml:space="preserve">7.02100</text>
<text class="t" transform="translate(1650,329) scale(0.94,1)" xml:space="preserve">7.01020</text>
<text class="t" transform="translate(1650,362) scale(0.94,1)" xml:space="preserve">6.99940</text>
<text class="t" transform="translate(1650,395) scale(0.94,1)" xml:space="preserve">6.98830</text>
<text class="t" transform="translate(1650,428) scale(0.94,1)" xml:space="preserve">6.97750</text>
<text class="t" transform="translate(1650,461) scale(0.94,1)" xml:space="preserve">6.96670</text>
<text class="t" transform="translate(1650,494) scale(0.94,1)" xml:space="preserve">6.95590</text>
<text class="t" transform="translate(1650,527) scale(0.94,1)" xml:space="preserve">6.94480</text>
<text class="t" transform="translate(1650,560) scale(0.94,1)" xml:space="preserve">6.93400</text>
<text class="t" transform="translate(1650,593) scale(0.94,1)" xml:space="preserve">6.92320</text>
<text class="t" transform="translate(1650,626) scale(0.94,1)" xml:space="preserve">6.91240</text>
<g class="c">
<rect x="1646" y="100" width="41" height="11" fill="#000"/>
<rect x="1646" y="31" width="41" height="11" fill="#ff0000"/>
<rect x="1646" y="64" width="41" height="11" fill="#ff0000"/>
<rect x="1646" y="112" width="41" height="11" fill="#ff8c00"/>
<rect x="1646" y="146" width="41" height="11" fill="#0000ff"/>
<rect x="1646" y="175" width="41" height="11" fill="#0000ff"/>
</g>
<text class="w" transform="translate(1650,109) scale(0.94,1)" xml:space="preserve">7.08266</text>
<text class="w" transform="translate(1650,40) scale(0.94,1)" xml:space="preserve">7.10493</text>
<text class="w" transform="translate(1650,73) scale(0.94,1)" xml:space="preserve">7.09407</text>
<text class="w" transform="translate(1650,121) scale(0.94,1)" xml:space="preserve">7.07856</text>
<text class="w" transform="translate(1650,155) scale(0.94,1)" xml:space="preserve">7.06710</text>
<text class="w" transform="translate(1650,184) scale(0.94,1)" xml:space="preserve">7.05756</text>
<polygon points="1375.5,30.8 1385.5,30.8 1380.5,36.2" fill="#000"/>
<g class="c">
<rect x="5" y="723" width="2" height="2" fill="#00ff00"/>
<rect x="20" y="723" width="3" height="1" fill="#00ff00"/>
<rect x="36" y="723" width="3" height="1" fill="#00ff00"/>
<rect x="52" y="723" width="3" height="1" fill="#00ff00"/>
<rect x="68" y="721" width="3" height="2" fill="#00ff00"/>
<rect x="84" y="719" width="3" height="4" fill="#00ff00"/>
<rect x="100" y="718" width="3" height="5" fill="#00ff00"/>
<rect x="116" y="715" width="3" height="8" fill="#00ff00"/>
<rect x="132" y="713" width="3" height="10" fill="#00ff00"/>
<rect x="148" y="712" width="3" height="11" fill="#00ff00"/>
<rect x="164" y="710" width="3" height="13" fill="#00ff00"/>
<rect x="180" y="707" width="3" height="16" fill="#00ff00"/>
<rect x="196" y="705" width="3" height="18" fill="#00ff00"/>
<rect x="212" y="699" width="3" height="24" fill="#00ff00"/>
<rect x="228" y="695" width="3" height="28" fill="#00ff00"/>
<rect x="244" y="692" width="3" height="31" fill="#00ff00"/>
<rect x="260" y="692" width="3" height="31" fill="#00ff00"/>
<rect x="276" y="691" width="3" height="32" fill="#00ff00"/>
<rect x="292" y="689" width="3" height="34" fill="#00ff00"/>
<rect x="308" y="685" width="3" height="38" fill="#00ff00"/>
<rect x="324" y="682" width="3" height="41" fill="#00ff00"/>
<rect x="340" y="680" width="3" height="43" fill="#00ff00"/>
<rect x="356" y="683" width="3" height="40" fill="#00ff00"/>
<rect x="372" y="685" width="3" height="38" fill="#00ff00"/>
<rect x="388" y="688" width="3" height="35" fill="#00ff00"/>
<rect x="404" y="690" width="3" height="33" fill="#00ff00"/>
<rect x="420" y="692" width="3" height="31" fill="#00ff00"/>
<rect x="436" y="692" width="3" height="31" fill="#00ff00"/>
<rect x="452" y="691" width="3" height="32" fill="#00ff00"/>
<rect x="468" y="688" width="3" height="35" fill="#00ff00"/>
<rect x="484" y="683" width="3" height="40" fill="#00ff00"/>
<rect x="500" y="677" width="3" height="46" fill="#00ff00"/>
<rect x="516" y="673" width="3" height="50" fill="#00ff00"/>
<rect x="532" y="668" width="3" height="55" fill="#00ff00"/>
<rect x="548" y="661" width="3" height="62" fill="#00ff00"/>
<rect x="564" y="658" width="3" height="65" fill="#00ff00"/>
<rect x="580" y="658" width="3" height="65" fill="#00ff00"/>
<rect x="596" y="658" width="3" height="65" fill="#00ff00"/>
<rect x="612" y="658" width="3" height="65" fill="#00ff00"/>
<rect x="628" y="656" width="3" height="67" fill="#00ff00"/>
<rect x="644" y="649" width="3" height="74" fill="#00ff00"/>
<rect x="660" y="644" width="3" height="79" fill="#00ff00"/>
<rect x="676" y="640" width="3" height="83" fill="#00ff00"/>
<rect x="692" y="637" width="3" height="86" fill="#00ff00"/>
<rect x="708" y="635" width="3" height="88" fill="#00ff00"/>
<rect x="724" y="633" width="3" height="90" fill="#00ff00"/>
<rect x="740" y="639" width="3" height="84" fill="#00ff00"/>
<rect x="756" y="648" width="3" height="75" fill="#00ff00"/>
<rect x="772" y="657" width="3" height="66" fill="#00ff00"/>
<rect x="788" y="663" width="3" height="60" fill="#00ff00"/>
<rect x="804" y="666" width="3" height="57" fill="#00ff00"/>
<rect x="820" y="667" width="3" height="56" fill="#00ff00"/>
<rect x="836" y="668" width="3" height="55" fill="#00ff00"/>
<rect x="852" y="667" width="3" height="56" fill="#00ff00"/>
<rect x="868" y="668" width="3" height="55" fill="#00ff00"/>
<rect x="884" y="668" width="3" height="55" fill="#00ff00"/>
<rect x="900" y="667" width="3" height="56" fill="#00ff00"/>
<rect x="916" y="664" width="3" height="59" fill="#00ff00"/>
<rect x="932" y="662" width="3" height="61" fill="#00ff00"/>
<rect x="948" y="663" width="3" height="60" fill="#00ff00"/>
<rect x="964" y="663" width="3" height="60" fill="#00ff00"/>
<rect x="980" y="664" width="3" height="59" fill="#00ff00"/>
<rect x="996" y="665" width="3" height="58" fill="#00ff00"/>
<rect x="1012" y="668" width="3" height="55" fill="#00ff00"/>
<rect x="1028" y="673" width="3" height="50" fill="#00ff00"/>
<rect x="1044" y="673" width="3" height="50" fill="#00ff00"/>
<rect x="1060" y="675" width="3" height="48" fill="#00ff00"/>
<rect x="1076" y="677" width="3" height="46" fill="#00ff00"/>
<rect x="1092" y="674" width="3" height="49" fill="#00ff00"/>
<rect x="1108" y="672" width="3" height="51" fill="#00ff00"/>
<rect x="1124" y="673" width="3" height="50" fill="#00ff00"/>
<rect x="1140" y="667" width="3" height="56" fill="#00ff00"/>
<rect x="1156" y="665" width="3" height="58" fill="#00ff00"/>
<rect x="1172" y="664" width="3" height="59" fill="#00ff00"/>
<rect x="1188" y="671" width="3" height="52" fill="#00ff00"/>
<rect x="1204" y="680" width="3" height="43" fill="#00ff00"/>
<rect x="1220" y="686" width="3" height="37" fill="#00ff00"/>
<rect x="1236" y="689" width="3" height="34" fill="#00ff00"/>
<rect x="1252" y="691" width="3" height="32" fill="#00ff00"/>
<rect x="1268" y="692" width="3" height="31" fill="#00ff00"/>
<rect x="1284" y="690" width="3" height="33" fill="#00ff00"/>
<rect x="1300" y="690" width="3" height="33" fill="#00ff00"/>
<rect x="1316" y="690" width="3" height="33" fill="#00ff00"/>
<rect x="1332" y="690" width="3" height="33" fill="#00ff00"/>
<rect x="1348" y="692" width="3" height="31" fill="#00ff00"/>
<polyline points="5.5,732 21.5,730 37.5,728.5 53.5,727.5 69.5,726 85.5,724.5 101.5,723 117.5,721 133.5,720.5 149.5,719.5 165.5,717.5 181.5,715.5 197.5,713.5 213.5,711.5 229.5,708 245.5,705.5 261.5,703.5 277.5,700.5 293.5,698.5 309.5,695.5 325.5,692.5 341.5,689 357.5,688.5 373.5,687 389.5,686.5 405.5,686 421.5,686 437.5,686.5 453.5,687.5 469.5,687.5 485.5,687.5 501.5,687 517.5,686.5 533.5,684.5 549.5,681.5 565.5,677.5 581.5,673.5 597.5,669.5 613.5,666.5 629.5,663.5 645.5,660.5 661.5,657.5 677.5,654.5 693.5,651.5 709.5,648.5 725.5,646.5 741.5,644 757.5,643.5 773.5,643.5 789.5,644.5 805.5,647.5 821.5,650.5 837.5,653.5 853.5,657 869.5,661 885.5,664 901.5,666 917.5,666.5 933.5,666.5 949.5,666 965.5,666 981.5,665.5 997.5,665 1013.5,665 1029.5,665.5 1045.5,666 1061.5,667.5 1077.5,669.5 1093.5,670.5 1109.5,671.5 1125.5,672 1141.5,672 1157.5,672 1173.5,671.5 1189.5,671 1205.5,671.5 1221.5,672.5 1237.5,674.5 1253.5,676.5 1269.5,678 1285.5,681 1301.5,684 1317.5,686 1333.5,689.5 1349.5,690" fill="none" stroke="#ff0000" stroke-width="2"/>
<rect x="1645" y="723" width="2" height="1" fill="#000"/>
</g>
<text class="t" transform="translate(8.5,640) scale(0.963,1)" xml:space="preserve">MACD(12,26,9) 0.008104 0.008732</text>
<text class="t" transform="translate(1648,638) scale(0.94,1)" xml:space="preserve">0.025163</text>
<text class="t" transform="translate(1648,727) scale(0.94,1)" xml:space="preserve">0.00</text>
<text class="t" transform="translate(1648,734) scale(0.94,1)" xml:space="preserve">-0.003635</text>
<g class="c">
<line x1="6" y1="761.5" x2="1644" y2="761.5" stroke="#000" stroke-width="1" stroke-dasharray="3,3"/>
<line x1="6" y1="791.5" x2="1644" y2="791.5" stroke="#000" stroke-width="1" stroke-dasharray="3,3"/>
<line x1="6" y1="826.5" x2="1644" y2="826.5" stroke="#000" stroke-width="1" stroke-dasharray="3,3"/>
<polyline points="5.5,789 21.5,789 37.5,789 53.5,791.5 69.5,784 85.5,784 101.5,787 117.5,778.5 133.5,781.5 149.5,783 165.5,778 181.5,775.5 197.5,776.5 213.5,769 229.5,770.5 245.5,770.5 261.5,779 277.5,775.5 293.5,772.5 309.5,769 325.5,769 341.5,769 357.5,783 373.5,782 389.5,784 405.5,784 421.5,782.5 437.5,778 453.5,776 469.5,773.5 485.5,766 501.5,765 517.5,765 533.5,762.5 549.5,760 565.5,765 581.5,769 597.5,768.5 613.5,767.5 629.5,765.5 645.5,759 661.5,758.5 677.5,758 693.5,757.5 709.5,757 725.5,756.5 741.5,776.5 757.5,784.5 773.5,786 789.5,783 805.5,780 821.5,776 837.5,775.5 853.5,774 869.5,774 885.5,774 901.5,770 917.5,768.5 933.5,768 949.5,771 965.5,771 981.5,771.5 997.5,771 1013.5,777 1029.5,780 1045.5,775 1061.5,777.5 1077.5,777.5 1093.5,770 1109.5,770 1125.5,770 1141.5,766.5 1157.5,766 1173.5,766 1189.5,784.5 1205.5,794 1221.5,789 1237.5,786.5 1253.5,785.5 1269.5,783 1285.5,780 1301.5,780 1317.5,781.5 1333.5,782 1349.5,782" fill="none" stroke="#1e90ff" stroke-width="2"/>
</g>
<text class="t" transform="translate(8.5,752) scale(0.985,1)" xml:space="preserve">RSI(14) 58.8681</text>
<text class="t" transform="translate(1648,750) scale(0.94,1)" xml:space="preserve">100</text>
<text class="t" transform="translate(1648,765) scale(0.94,1)" xml:space="preserve">80</text>
<text class="t" transform="translate(1648,795) scale(0.94,1)" xml:space="preserve">50</text>
<text class="t" transform="translate(1648,830) scale(0.94,1)" xml:space="preserve">15</text>
<text class="t" transform="translate(1648,839) scale(0.94,1)" xml:space="preserve">0</text>
<g class="c">
<rect x="5" y="843" width="1" height="3" fill="#000"/>
<rect x="69" y="843" width="1" height="3" fill="#000"/>
<rect x="133" y="843" width="1" height="3" fill="#000"/>
<rect x="197" y="843" width="1" height="3" fill="#000"/>
<rect x="261" y="843" width="1" height="3" fill="#000"/>
<rect x="325" y="843" width="1" height="3" fill="#000"/>
<rect x="389" y="843" width="1" height="3" fill="#000"/>
<rect x="453" y="843" width="1" height="3" fill="#000"/>
<rect x="517" y="843" width="1" height="3" fill="#000"/>
<rect x="581" y="843" width="1" height="3" fill="#000"/>
<rect x="645" y="843" width="1" height="3" fill="#000"/>
<rect x="709" y="843" width="1" height="3" fill="#000"/>
<rect x="773" y="843" width="1" height="3" fill="#000"/>
<rect x="837" y="843" width="1" height="3" fill="#000"/>
<rect x="901" y="843" width="1" height="3" fill="#000"/>
<rect x="965" y="843" width="1" height="3" fill="#000"/>
<rect x="1029" y="843" width="1" height="3" fill="#000"/>
<rect x="1093" y="843" width="1" height="3" fill="#000"/>
<rect x="1157" y="843" width="1" height="3" fill="#000"/>
<rect x="1221" y="843" width="1" height="3" fill="#000"/>
<rect x="1285" y="843" width="1" height="3" fill="#000"/>
<rect x="1349" y="843" width="1" height="3" fill="#000"/>
</g>
<text class="t" style="font-size:10.2px" transform="translate(3.7,855) scale(0.947,1)" xml:space="preserve">9 May 2023</text>
<text class="t" style="font-size:10.2px" transform="translate(67.7,855) scale(0.947,1)" xml:space="preserve">10 May 00:00</text>
<text class="t" style="font-size:10.2px" transform="translate(131.7,855) scale(0.947,1)" xml:space="preserve">10 May 16:00</text>
<text class="t" style="font-size:10.2px" transform="translate(195.7,855) scale(0.947,1)" xml:space="preserve">11 May 08:00</text>
<text class="t" style="font-size:10.2px" transform="translate(259.7,855) scale(0.947,1)" xml:space="preserve">12 May 00:00</text>
<text class="t" style="font-size:10.2px" transform="translate(323.7,855) scale(0.947,1)" xml:space="preserve">12 May 16:00</text>
<text class="t" style="font-size:10.2px" transform="translate(387.7,855) scale(0.947,1)" xml:space="preserve">15 May 12:00</text>
<text class="t" style="font-size:10.2px" transform="translate(451.7,855) scale(0.947,1)" xml:space="preserve">16 May 04:00</text>
<text class="t" style="font-size:10.2px" transform="translate(515.7,855) scale(0.947,1)" xml:space="preserve">16 May 20:00</text>
<text class="t" style="font-size:10.2px" transform="translate(579.7,855) scale(0.947,1)" xml:space="preserve">17 May 12:00</text>
<text class="t" style="font-size:10.2px" transform="translate(643.7,855) scale(0.947,1)" xml:space="preserve">18 May 04:00</text>
<text class="t" style="font-size:10.2px" transform="translate(707.7,855) scale(0.947,1)" xml:space="preserve">18 May 20:00</text>
<text class="t" style="font-size:10.2px" transform="translate(771.7,855) scale(0.947,1)" xml:space="preserve">19 May 12:00</text>
<text class="t" style="font-size:10.2px" transform="translate(835.7,855) scale(0.947,1)" xml:space="preserve">22 May 08:00</text>
<text class="t" style="font-size:10.2px" transform="translate(899.7,855) scale(0.947,1)" xml:space="preserve">23 May 00:00</text>
<text class="t" style="font-size:10.2px" transform="translate(963.7,855) scale(0.947,1)" xml:space="preserve">23 May 16:00</text>
<text class="t" style="font-size:10.2px" transform="translate(1027.7,855) scale(0.947,1)" xml:space="preserve">24 May 08:00</text>
<text class="t" style="font-size:10.2px" transform="translate(1091.7,855) scale(0.947,1)" xml:space="preserve">25 May 00:00</text>
<text class="t" style="font-size:10.2px" transform="translate(1155.7,855) scale(0.947,1)" xml:space="preserve">25 May 16:00</text>
<text class="t" style="font-size:10.2px" transform="translate(1219.7,855) scale(0.947,1)" xml:space="preserve">26 May 08:00</text>
<text class="t" style="font-size:10.2px" transform="translate(1283.7,855) scale(0.947,1)" xml:space="preserve">29 May 04:00</text>
<text class="t" style="font-size:10.2px" transform="translate(1347.7,855) scale(0.947,1)" xml:space="preserve">29 May 20:00</text>
</svg></body></html>
